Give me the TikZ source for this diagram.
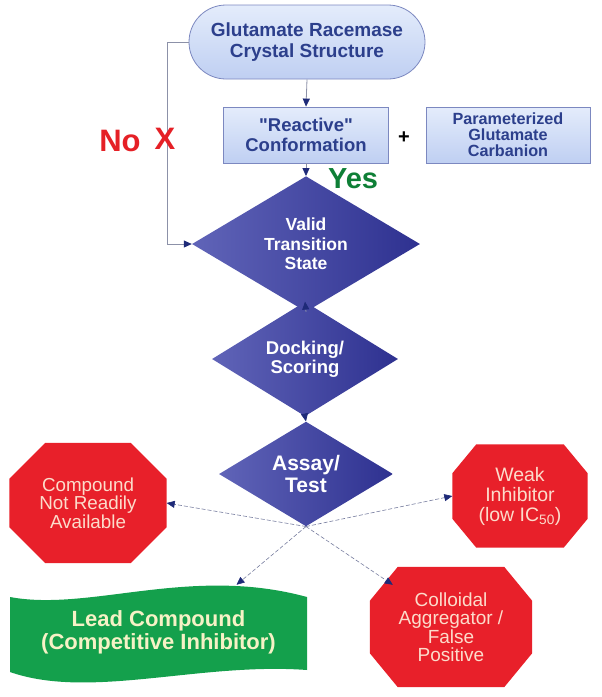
\documentclass[tikz,border=0pt]{standalone}
\usepackage{fontspec}
\setmainfont{Liberation Sans}[Ligatures=TeXOff]
\usetikzlibrary{shapes.geometric,shapes.misc,arrows.meta,backgrounds,calc}
\definecolor{boxtop}{HTML}{E4ECFB}
\definecolor{boxfill}{HTML}{BFCFF2}
\definecolor{boxline}{HTML}{7C88C0}
\definecolor{boxtext}{HTML}{2C3F8C}
\definecolor{dialight}{HTML}{6064B8}
\definecolor{diadark}{HTML}{2E3190}
\definecolor{stopred}{HTML}{E8202A}
\definecolor{stoptext}{HTML}{FCDCCB}
\definecolor{leadgreen}{HTML}{14A04C}
\definecolor{leadtext}{HTML}{F6F2C6}
\definecolor{yesgreen}{HTML}{0E7F36}
\definecolor{nored}{HTML}{E52026}
\definecolor{arrowblue}{HTML}{1E2A78}
\definecolor{linegray}{HTML}{8C91A8}

\begin{document}
\begin{tikzpicture}[x=1pt,y=1pt,yscale=-1,
	lbox/.style={draw=boxline,line width=0.8pt,top color=boxtop,bottom color=boxfill,text=boxtext,align=center,inner sep=0pt},
	dia/.style={diamond,left color=dialight,right color=diadark,text=white,align=center,inner sep=0pt},
	stop/.style={text=stoptext,align=center,inner sep=0pt},
	flow/.style={draw=linegray,line width=0.8pt,-{Triangle[length=8pt,width=7pt,color=arrowblue]}},
	branch/.style={flow,line width=0.6pt,draw=linegray!80!arrowblue,dash pattern=on 4pt off 2pt}]
	\useasboundingbox (0,0) rectangle (602,697);
	\node[lbox,rounded rectangle,minimum width=236pt,minimum height=74pt,font=\fontsize{19}{21}\selectfont\bfseries] (crystal) at (307,42) {Glutamate Racemase\\Crystal Structure};
	\node[lbox,minimum width=165pt,minimum height=56pt,font=\fontsize{18.5}{20.5}\selectfont\bfseries] (reactive) at (306,135) {"Reactive"\\Conformation};
	\node[lbox,minimum width=164pt,minimum height=56pt,font=\fontsize{16.2}{16}\selectfont\bfseries] (carbanion) at (508,135) {Parameterized\\Glutamate\\Carbanion};
	\node[font=\fontsize{20}{20}\selectfont\bfseries] (plus) at (404,138) {+};
	\node[dia,minimum width=228pt,minimum height=122pt,font=\fontsize{17.5}{19.5}\selectfont\bfseries] (valid) at (306,244) {Valid\\Transition\\State};
	\node[dia,minimum width=186pt,minimum height=102pt,font=\fontsize{18.5}{19}\selectfont\bfseries] (docking) at (305,359) {Docking/\\Scoring};
	\node[dia,minimum width=174pt,minimum height=96pt,font=\fontsize{21}{21.5}\selectfont\bfseries] (assay) at (306,474) {Assay/\\Test};
	\node[stop,minimum width=157pt,minimum height=120pt,font=\fontsize{18.8}{18.5}\selectfont] (notavail) at (88,503) {Compound\\Not Readily\\Available};
	\node[stop,minimum width=135pt,minimum height=103pt,font=\fontsize{19.5}{20}\selectfont] (weak) at (520,496) {Weak\\Inhibitor\\(low IC\textsubscript{50})};
	\node[stop,minimum width=162pt,minimum height=120pt,font=\fontsize{19}{18.5}\selectfont] (colloid) at (451,627) {Colloidal\\Aggregator /\\False\\Positive};
	\node[text=leadtext,align=center,inner sep=0pt,minimum width=297pt,minimum height=95pt,font=\fontsize{22}{23}\selectfont\bfseries] (lead) at (158.5,632.5) {Lead Compound\\(Competitive Inhibitor)};
	\node[text=yesgreen,font=\fontsize{29}{29}\selectfont\bfseries] (yes) at (353,179) {Yes};
	\node[text=nored,font=\fontsize{31}{31}\selectfont\bfseries] (no) at (120,141) {No};
	\begin{scope}[on background layer]
		\foreach \n/\cx/\cy in {notavail/36/36,weak/24/29,colloid/28/34}
			\fill[stopred] ($(\n.north west)+(\cx,0)$) -- ($(\n.north east)+(-\cx,0)$) -- ($(\n.north east)+(0,\cy)$) -- ($(\n.south east)+(0,-\cy)$) -- ($(\n.south east)+(-\cx,0)$) -- ($(\n.south west)+(\cx,0)$) -- ($(\n.south west)+(0,-\cy)$) -- ($(\n.north west)+(0,\cy)$) -- cycle;
		\fill[leadgreen,shift={(lead.center)}] (-148.5,-35.5) .. controls (-68.5,-20.5) and (31.5,-67.5) .. (148.5,-35.5) -- (148.5,37.5) .. controls (41.5,29.5) and (-68.5,67.5) .. (-148.5,39.5) -- cycle;
	\end{scope}
	\coordinate (leadtip) at ($(lead.north)+(78,0)$);
	\coordinate (colltip) at ($(colloid.north west)+(23,18)$);
	\draw[flow] (crystal.south) -- (reactive.north);
	\draw[flow] (reactive.south) -- (valid.north);
	\draw[flow] (crystal.west) -- ++(-21,0) |- (valid.west);
	\draw[flow] (valid.south) -- (docking.north);
	\draw[flow] (docking.south) -- (assay.north);
	\draw[branch] (assay.south) -- (notavail.east);
	\draw[branch] (assay.south) -- (weak.west);
	\draw[branch] (assay.south) -- (leadtip);
	\draw[branch] (assay.south) -- (colltip);
	\node[text=nored,font=\fontsize{31}{31}\selectfont\bfseries] (cross) at (165,139) {X};
\end{tikzpicture}
\end{document}
